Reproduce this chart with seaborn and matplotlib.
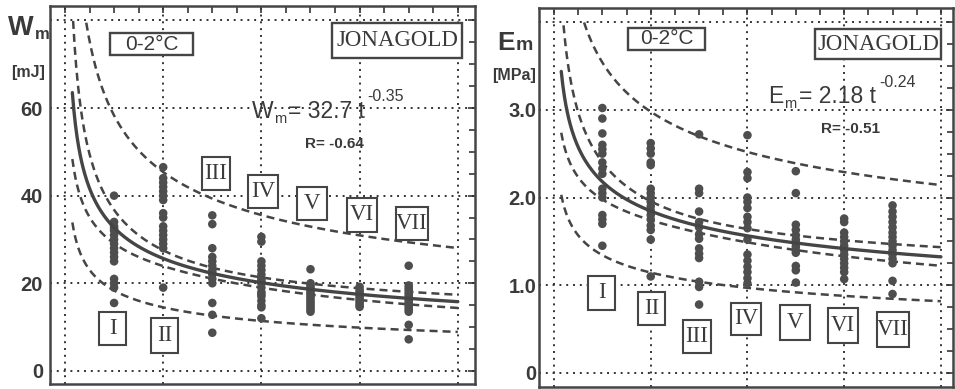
import numpy as np
import pandas as pd
import matplotlib
matplotlib.use("Agg")
import matplotlib.pyplot as plt
import seaborn as sns
from matplotlib.patches import Rectangle
from matplotlib.ticker import MultipleLocator

# ---------------- data ----------------
STAGES = ["I", "II", "III", "IV", "V", "VI", "VII"]
T_STAGE = [1, 2, 3, 4, 5, 6, 7]

W_I = [40, 34, 33, 32.5, 32, 31, 30, 29, 28, 27, 26, 25, 21, 20, 19, 15.5]
W_II = [46.5, 44, 43, 42, 41, 40, 39, 36, 35, 33, 32, 31, 30, 29, 28, 19]
W_III = [35.5, 33.5, 28, 26, 25, 24, 23, 22.5, 22, 21, 20, 15.5, 12.8, 8.7]
W_IV = [30.6, 29.5, 25, 24, 23, 22, 21, 20.5, 20, 19, 18, 17.5, 17, 16, 15, 14.5, 12]
W_V = [23.2, 20, 19.5, 19, 18.5, 18, 17.5, 17, 16.5, 16, 15.5, 15, 14.5, 14, 13.5]
W_VI = [19.2, 18.5, 18, 17.5, 17, 16.5, 16, 15.5, 15, 14.6]
W_VII = [24, 19.5, 19, 18.5, 18, 17.5, 17, 16.5, 16, 15.5, 15, 14.5, 14, 13.5, 10.5, 7.2]

E_I = [3.02, 2.9, 2.73, 2.6, 2.55, 2.5, 2.4, 2.33, 2.27, 2.1, 2.05, 2.0, 1.8, 1.75, 1.7, 1.45]
E_II = [2.62, 2.56, 2.5, 2.4, 2.37, 2.1, 2.05, 2.0, 1.95, 1.9, 1.85, 1.8, 1.75, 1.68, 1.63, 1.52, 1.1]
E_III = [2.72, 2.1, 2.05, 1.84, 1.72, 1.66, 1.58, 1.53, 1.42, 1.36, 1.31, 1.04, 0.98, 0.78]
E_IV = [2.71, 2.29, 2.22, 2.0, 1.95, 1.88, 1.78, 1.72, 1.65, 1.52, 1.35, 1.28, 1.21, 1.15, 1.08, 1.02]
E_V = [2.3, 2.05, 1.69, 1.63, 1.57, 1.52, 1.48, 1.44, 1.4, 1.37, 1.22, 1.17, 1.03]
E_VI = [1.76, 1.72, 1.6, 1.55, 1.5, 1.45, 1.4, 1.35, 1.3, 1.25, 1.2, 1.15, 1.07]
E_VII = [1.91, 1.84, 1.78, 1.72, 1.66, 1.6, 1.55, 1.5, 1.45, 1.4, 1.35, 1.3, 1.25, 1.05, 0.9]

W_COEF = 32.7
W_EXP = -0.35
W_R = "-0.64"
E_COEF = 2.18
E_EXP = -0.24
E_R = "-0.51"

TEMP_LABEL = "0-2°C"
CULTIVAR = "JONAGOLD"
W_YTICKS = [0, 20, 40, 60, 80]
W_YLABELS = ["0", "20", "40", "60", ""]
E_YTICKS = [0, 1, 2, 3, 4]
E_YLABELS = ["0", "1.0", "2.0", "3.0", ""]

# ---------------- style ----------------
sns.set_style("white")
SANS = ["Liberation Sans", "DejaVu Sans"]
SERIF = ["Liberation Serif", "DejaVu Serif"]
plt.rcParams["font.family"] = SANS
INK = "#454545"
DOT = "#4e4e4e"
TXT = "#3a3a3a"

W_PX, H_PX = 955, 389
fig = plt.figure(figsize=(W_PX / 100, H_PX / 100), dpi=100)
fig.patch.set_facecolor("white")


def build(cols, name):
    rows = []
    for t, vals in zip(T_STAGE, cols):
        for v in vals:
            rows.append((t, v))
    return pd.DataFrame(rows, columns=["t", name])


dfW = build([W_I, W_II, W_III, W_IV, W_V, W_VI, W_VII], "W")
dfE = build([E_I, E_II, E_III, E_IV, E_V, E_VI, E_VII], "E")


def bands(df, col, a, b, tq, tcrit=1.98):
    """Power-law fit with 95% confidence / prediction bands computed in log space."""
    x = np.log(df["t"].to_numpy(float))
    y = np.log(df[col].to_numpy(float))
    r = y - (np.log(a) + b * x)
    n = len(x)
    s = np.sqrt(np.sum(r ** 2) / (n - 2))
    xm = x.mean()
    sxx = np.sum((x - xm) ** 2)
    xq = np.log(tq)
    fit = a * tq ** b
    ci = tcrit * s * np.sqrt(1.0 / n + (xq - xm) ** 2 / sxx)
    pi = tcrit * s * np.sqrt(1.0 + 1.0 / n + (xq - xm) ** 2 / sxx)
    return fit, fit * np.exp(ci), fit * np.exp(-ci), fit * np.exp(pi), fit * np.exp(-pi)


def px(x, y):
    return x / W_PX, 1 - y / H_PX


def ftext(x, y, s, **kw):
    fx, fy = px(x, y)
    kw.setdefault("va", "baseline")
    kw.setdefault("color", TXT)
    fig.text(fx, fy, s, **kw)


def fbox(x0, y0, x1, y1, lw=1.7):
    fx0, fy1 = px(x0, y1)
    fig.add_artist(Rectangle((fx0, fy1), (x1 - x0) / W_PX, (y1 - y0) / H_PX,
                             transform=fig.transFigure, fc="white", ec=INK,
                             lw=lw, zorder=6))


def panel(ax, df, col, a, b, yticks, ylabels, ylim, xlim, ymax_curve):
    ax.set_xlim(*xlim)
    ax.set_ylim(*ylim)
    for v in [0, 2, 4, 6, 8]:
        ax.axvline(v, color="#333333", lw=1.4, ls=(0, (1, 2.5)), zorder=1)
    for v in yticks:
        ax.axhline(v, color="#333333", lw=1.4, ls=(0, (1, 2.5)), zorder=1)

    tq = np.linspace(0.15, 8.0, 500)
    fit, ciu, cil, piu, pil = bands(df, col, a, b, tq)
    for curve in (ciu, cil, piu, pil):
        c = np.where(curve <= ymax_curve, curve, np.nan)
        ax.plot(tq, c, color=INK, lw=1.8, ls=(0, (3.2, 2.0)), zorder=2)
    ax.plot(tq, np.where(fit <= ymax_curve, fit, np.nan), color=INK, lw=2.4, zorder=4)

    sns.scatterplot(data=df, x="t", y=col, ax=ax, color=DOT, s=38,
                    edgecolor="none", legend=False, zorder=3)

    ax.set_xlabel("")
    ax.set_ylabel("")
    ax.xaxis.set_major_locator(MultipleLocator(0.5))
    ax.set_xticklabels([])
    ax.set_yticks(yticks)
    ax.set_yticklabels(ylabels)
    ax.yaxis.set_minor_locator(MultipleLocator((yticks[1] - yticks[0]) / 4))
    ax.tick_params(which="both", direction="in", top=True, right=True,
                   color=INK, width=1.3)
    ax.tick_params(which="major", length=5, labelsize=14.5, labelcolor=TXT)
    ax.tick_params(which="minor", length=4)
    for lab in ax.get_yticklabels():
        lab.set_fontweight("bold")
    for sp in ax.spines.values():
        sp.set_color(INK)
        sp.set_linewidth(1.8)


# ---------------- left panel: W_m ----------------
axL = fig.add_axes([50 / W_PX, 5 / H_PX, 425 / W_PX, 378 / H_PX])
panel(axL, dfW, "W", W_COEF, W_EXP, W_YTICKS, W_YLABELS,
      (-3.0, 83.3), (-0.305, 8.35), 80)
axL.tick_params(axis="y", pad=5)

# ---------------- right panel: E_m ----------------
axR = fig.add_axes([539 / W_PX, 2 / H_PX, 414 / W_PX, 379 / H_PX])
panel(axR, dfE, "E", E_COEF, E_EXP, E_YTICKS, E_YLABELS,
      (-0.16, 4.16), (-0.31, 8.25), 4.0)
axR.tick_params(axis="y", pad=2)

# ---------------- axis titles ----------------
ftext(8, 35, "W", fontsize=19.5, fontweight="bold")
ftext(35, 39, "m", fontsize=12, fontweight="bold")
ftext(11, 77, "[mJ]", fontsize=11.5, fontweight="bold")

ftext(497, 50, "E", fontsize=19, fontweight="bold")
ftext(516, 50, "m", fontsize=14, fontweight="bold")
ftext(492, 80, "[MPa]", fontsize=11.5, fontweight="bold")

# ---------------- equations ----------------
ftext(252, 118, "W", fontsize=16.5)
ftext(274, 123, "m", fontsize=10.5)
ftext(288, 118, f"= {W_COEF} t", fontsize=16.5)
ftext(367, 101, f"{W_EXP}", fontsize=11.5)
ftext(305, 148, f"R= {W_R}", fontsize=11, fontweight="bold")

ftext(768, 103, "E", fontsize=16.5)
ftext(784, 108, "m", fontsize=10.5)
ftext(799, 103, f"= {E_COEF} t", fontsize=16.5)
ftext(879, 87, f"{E_EXP}", fontsize=11.5)
ftext(821, 133, f"R= {E_R}", fontsize=11, fontweight="bold")

# ---------------- boxed labels ----------------
def boxed(x0, y0, x1, y1, s, fam, size, lw=1.7):
    fbox(x0, y0, x1, y1, lw=lw)
    fx, fy = px((x0 + x1) / 2, (y0 + y1) / 2)
    fig.text(fx, fy, s, ha="center", va="center", family=fam, fontsize=size,
             color=TXT, zorder=7)


boxed(110, 33, 193, 55, TEMP_LABEL, SANS, 15)
boxed(628, 28, 705, 50, TEMP_LABEL, SANS, 15)
boxed(332, 23, 462, 58, CULTIVAR, SERIF, 16.5)
boxed(815, 29, 941, 59, CULTIVAR, SERIF, 16.5)

LEFT_BOXES = [(99, 312, 126, 345), (151, 318, 178, 353), (202, 157, 230, 190),
              (248, 175, 278, 208), (297, 187, 327, 220), (347, 198, 377, 232),
              (396, 207, 428, 240)]
RIGHT_BOXES = [(588, 276, 615, 310), (638, 292, 665, 325), (683, 320, 711, 353),
               (731, 303, 761, 335), (780, 305, 810, 340), (828, 308, 858, 343),
               (877, 312, 909, 347)]
for lab, bx in zip(STAGES, LEFT_BOXES):
    boxed(*bx, lab, SERIF, 16.5, lw=1.5)
for lab, bx in zip(STAGES, RIGHT_BOXES):
    boxed(*bx, lab, SERIF, 16.5, lw=1.5)

fig.savefig("out.png", dpi=100, facecolor="white")
